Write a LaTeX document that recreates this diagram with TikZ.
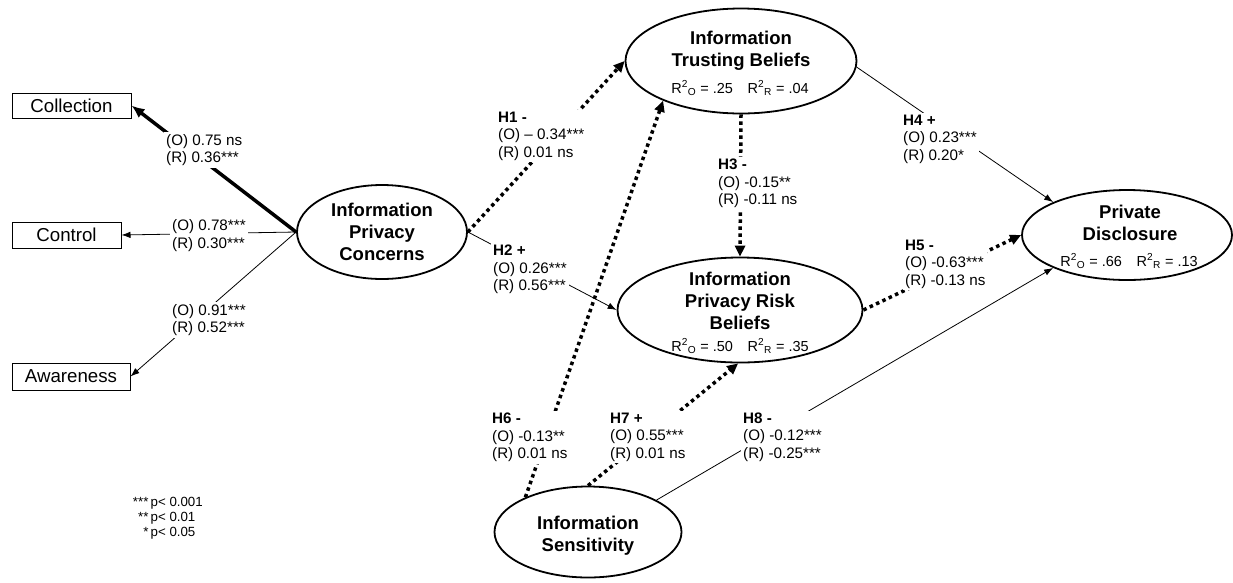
\documentclass[tikz,border=0pt]{standalone}
\usepackage{fontspec}
\setmainfont{Liberation Sans}
\usetikzlibrary{shapes.geometric,arrows.meta}
\tikzset{
  construct/.style={draw, ellipse, line width=1.8pt, inner sep=0pt},
  indicator/.style={draw, rectangle, line width=1pt, inner sep=0pt,
    font=\fontsize{18.7}{22}\selectfont},
  cname/.style={font=\fontsize{18.5}{22}\selectfont\bfseries, align=center, inner sep=0pt},
  rsq/.style={font=\fontsize{14.5}{17}\selectfont, inner sep=0pt},
  coef/.style={font=\fontsize{15.2}{17.5}\selectfont, align=left, fill=white,
    inner sep=2pt, anchor=west},
  solidpath/.style={line width=0.8pt, -{Latex[length=9pt,width=6.5pt]}},
  heavypath/.style={line width=3.5pt, -{Latex[length=13pt,width=11pt]}},
  dotpath/.style={line width=3.5pt, dash pattern=on 3.5pt off 3.5pt,
    -{Triangle[length=11pt,width=10pt]}}
}
\newcommand{\rsquared}[2]{R\textsuperscript{2}\textsubscript{O} = #1\quad R\textsuperscript{2}\textsubscript{R} = #2}

\begin{document}
\begin{tikzpicture}[x=1pt,y=-1pt]
  \useasboundingbox (0,0) rectangle (1233,582);
  % indicators
  \node[indicator, minimum width=119pt, minimum height=25pt] (coll) at (71.5,105.5) {Collection};
  \node[indicator, minimum width=109pt, minimum height=26pt] (ctrl) at (66.5,235) {Control};
  \node[indicator, minimum width=118pt, minimum height=27pt] (awar) at (71,376.5) {Awareness};
  % constructs
  \node[construct, minimum width=170pt, minimum height=94pt] (ipc) at (382,232) {};
  \node[construct, minimum width=231pt, minimum height=105pt] (trust) at (741,61) {};
  \node[construct, minimum width=245pt, minimum height=105pt] (risk) at (740,310) {};
  \node[construct, minimum width=210pt, minimum height=90pt] (pd) at (1127,235) {};
  \node[construct, minimum width=187pt, minimum height=91pt] (sens) at (588,532) {};
  \node[cname] (ipc-name) at (382,232) {Information\\Privacy\\Concerns};
  \node[cname] (trust-name) at (741,51) {Information\\Trusting Beliefs};
  \node[cname] (risk-name) at (740,301) {Information\\Privacy Risk\\Beliefs};
  \node[cname] (pd-name) at (1130,222.5) {Private\\Disclosure};
  \node[cname] (sens-name) at (588,536) {Information\\Sensitivity};
  \node[rsq] (trust-r2) at (740,88) {\rsquared{.25}{.04}};
  \node[rsq] (risk-r2) at (740,346) {\rsquared{.50}{.35}};
  \node[rsq] (pd-r2) at (1129,261) {\rsquared{.66}{.13}};
  % paths
  \draw[heavypath] (ipc.west) -- (coll.east);
  \draw[solidpath] (ipc.west) -- (ctrl.east);
  \draw[solidpath] (ipc.west) -- (awar.east);
  \draw[dotpath] (ipc.east) -- (trust.west);      % H1
  \draw[solidpath] (ipc.east) -- (risk.west);     % H2
  \draw[dotpath] (trust.south) -- (risk.north);   % H3
  \draw[solidpath] (trust.-3) -- (pd.156);        % H4
  \draw[dotpath] (risk.east) -- (pd.west);        % H5
  \draw[dotpath] (sens.151) -- (trust.-153);      % H6
  \draw[dotpath] (sens.north) -- (risk.-92);      % H7
  \draw[solidpath] (sens.25) -- (pd.204);         % H8
  % coefficients
  \node[coef] (lab-coll) at (164,150) {(O) 0.75 ns\\(R) 0.36***};
  \node[coef] (lab-ctrl) at (170,235.5) {(O) 0.78***\\(R) 0.30***};
  \node[coef] (lab-awar) at (170,320) {(O) 0.91***\\(R) 0.52***};
  \node[coef] (lab-h1) at (496,136) {\textbf{H1 -}\\(O) – 0.34***\\(R) 0.01 ns};
  \node[coef] (lab-h2) at (491,269.5) {\textbf{H2 +}\\(O) 0.26***\\(R) 0.56***};
  \node[coef] (lab-h3) at (716,183.5) {\textbf{H3 -}\\(O) -0.15**\\(R) -0.11 ns};
  \node[coef] (lab-h4) at (901,139) {\textbf{H4 +}\\(O) 0.23***\\(R) 0.20*};
  \node[coef] (lab-h5) at (903,264) {\textbf{H5 -}\\(O) -0.63***\\(R) -0.13 ns};
  \node[coef] (lab-h6) at (490,437.5) {\textbf{H6 -}\\(O) -0.13**\\(R) 0.01 ns};
  \node[coef] (lab-h7) at (608,437) {\textbf{H7 +}\\(O) 0.55***\\(R) 0.01 ns};
  \node[coef] (lab-h8) at (741,437) {\textbf{H8 -}\\(O) -0.12***\\(R) -0.25***};
  % significance
  \node[font=\fontsize{13.3}{15}\selectfont, anchor=east, inner sep=0pt] (legend) at (203,518)
    {\begin{tabular}{@{}r@{\,}l@{}}{***}&p< 0.001\\{**}&p< 0.01\\{*}&p< 0.05\end{tabular}};
\end{tikzpicture}
\end{document}
